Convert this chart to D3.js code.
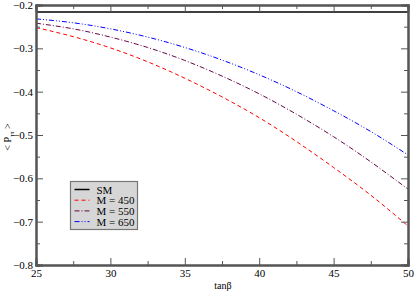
<!DOCTYPE html>
<html>
<head>
<meta charset="utf-8">
<script src="https://cdn.jsdelivr.net/npm/d3@7"></script>
<style>
  body { margin: 0; background: #fff; }
  svg text { font-family: "Liberation Serif", "Times New Roman", serif; }
</style>
</head>
<body>
<div id="chart"></div>
<script>
// data
var tanb = [25, 27.5, 30, 32.5, 35, 37.5, 40, 42.5, 45, 47.5, 50];
var sm = [-0.216, -0.216, -0.216, -0.216, -0.216, -0.216, -0.216, -0.216, -0.216, -0.216, -0.216];
var m450 = [-0.252, -0.273, -0.299, -0.331, -0.369, -0.412, -0.460, -0.515, -0.575, -0.639, -0.710];
var m550 = [-0.242, -0.255, -0.274, -0.298, -0.328, -0.364, -0.405, -0.452, -0.504, -0.562, -0.625];
var m650 = [-0.232, -0.241, -0.255, -0.274, -0.298, -0.327, -0.361, -0.400, -0.444, -0.492, -0.546];
var xTicks = [25, 30, 35, 40, 45, 50];
var yTicks = [-0.8, -0.7, -0.6, -0.5, -0.4, -0.3, -0.2];
var seriesNames = ["SM", "M = 450", "M = 550", "M = 650"];

var series = [
    { name: seriesNames[0], values: sm, color: "#000000", dash: null, width: 1.5 },
    { name: seriesNames[1], values: m450, color: "#ff0000", dash: "4,3", width: 1 },
    { name: seriesNames[2], values: m550, color: "#670748", dash: "5,2,1,2", width: 1 },
    { name: seriesNames[3], values: m650, color: "#0000ff", dash: "5,2,1,2,1,2", width: 1 }
];

// set the dimensions and margins of the graph
var margin = { top: 5, right: 7, bottom: 27, left: 36 },
    width = 415 - margin.left - margin.right,
    height = 292 - margin.top - margin.bottom;

var svg = d3.select("#chart")
    .append("svg")
    .attr("width", 415)
    .attr("height", 292)
    .append("g")
    .attr("transform", "translate(" + margin.left + "," + margin.top + ")");

var x = d3.scaleLinear().domain([25, 50]).range([0, width]);
var y = d3.scaleLinear().domain([-0.8, -0.2]).range([height, 0]);

var axisColor = "#555";

// curves
var line = d3.line()
    .x(function (d, i) { return x(tanb[i]); })
    .y(function (d) { return y(d); })
    .curve(d3.curveNatural);

svg.selectAll("path.curve")
    .data(series)
    .enter()
    .append("path")
    .attr("class", "curve")
    .attr("fill", "none")
    .attr("stroke", function (d) { return d.color; })
    .attr("stroke-width", function (d) { return d.width; })
    .attr("stroke-dasharray", function (d) { return d.dash; })
    .attr("d", function (d) { return line(d.values); });

// axes, ticks pointing inward
function styleAxis(g) {
    g.attr("font-family", "Liberation Serif").attr("font-size", 11);
    g.select(".domain").attr("stroke", axisColor).attr("stroke-width", 2);
    g.selectAll(".tick line").attr("stroke", axisColor);
    g.selectAll(".tick text").attr("fill", "#000");
}

var xMinor = d3.range(27.5, 50, 5);
var yMinor = d3.range(-0.75, -0.2, 0.1);

// bottom
svg.append("g").attr("transform", "translate(0," + height + ")")
    .call(d3.axisBottom(x).tickValues(xMinor).tickSize(-4).tickFormat(""))
    .call(styleAxis);
svg.append("g").attr("transform", "translate(0," + height + ")")
    .call(d3.axisBottom(x).tickValues(xTicks).tickSize(-7).tickPadding(4).tickFormat(d3.format("d")))
    .call(styleAxis);
// top
svg.append("g")
    .call(d3.axisTop(x).tickValues(xMinor).tickSize(-4).tickFormat(""))
    .call(styleAxis);
svg.append("g")
    .call(d3.axisTop(x).tickValues(xTicks).tickSize(-7).tickFormat(""))
    .call(styleAxis);
// left
svg.append("g")
    .call(d3.axisLeft(y).tickValues(yMinor).tickSize(-4).tickFormat(""))
    .call(styleAxis);
svg.append("g")
    .call(d3.axisLeft(y).tickValues(yTicks).tickSize(-7).tickPadding(3).tickFormat(d3.format(".1f")))
    .call(styleAxis);
// right
svg.append("g").attr("transform", "translate(" + width + ",0)")
    .call(d3.axisRight(y).tickValues(yMinor).tickSize(-4).tickFormat(""))
    .call(styleAxis);
svg.append("g").attr("transform", "translate(" + width + ",0)")
    .call(d3.axisRight(y).tickValues(yTicks).tickSize(-7).tickFormat(""))
    .call(styleAxis);

// axis labels
svg.append("text")
    .attr("x", width / 2 + 1)
    .attr("y", height + 24)
    .attr("text-anchor", "middle")
    .style("font-size", "10px")
    .text("tanβ");

var yl = svg.append("text")
    .attr("transform", "translate(" + (-25) + "," + (height / 2 + 2) + ") rotate(-90)")
    .attr("text-anchor", "middle")
    .style("font-size", "10px");
yl.append("tspan").text("< P");
yl.append("tspan").attr("dy", 3).style("font-size", "7px").text("ττ");
yl.append("tspan").attr("dy", -3).text(" >");

// legend
var lg = svg.append("g").attr("transform", "translate(34.5,176.5)");
lg.append("rect")
    .attr("width", 67).attr("height", 48)
    .attr("fill", "#d6d6d6")
    .attr("stroke", "#777")
    .attr("stroke-width", 1.2);

var items = lg.selectAll("g.item")
    .data(series)
    .enter()
    .append("g")
    .attr("class", "item")
    .attr("transform", function (d, i) { return "translate(0," + (8 + i * 10.7) + ")"; });
items.append("line")
    .attr("x1", 4).attr("x2", 19)
    .attr("stroke", function (d) { return d.color; })
    .attr("stroke-width", function (d) { return d.width; })
    .attr("stroke-dasharray", function (d) { return d.dash; });
items.append("text")
    .attr("x", 26).attr("y", 4)
    .style("font-size", "11px")
    .text(function (d) { return d.name; });
</script>
</body>
</html>
